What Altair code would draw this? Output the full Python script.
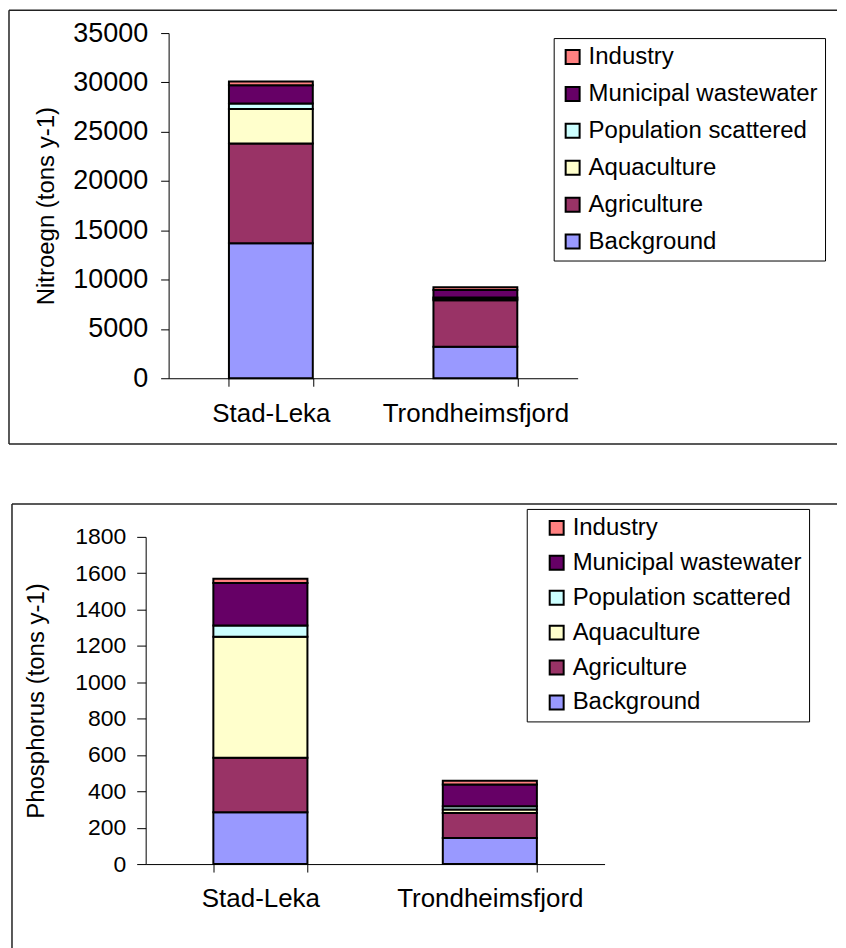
import altair as alt
import pandas as pd

sites = ["Stad-Leka", "Trondheimsfjord"]
legend_order = ["Industry", "Municipal wastewater", "Population scattered",
                "Aquaculture", "Agriculture", "Background"]
legend_colors = ["#FF8080", "#660066", "#CCFFFF", "#FFFFCC", "#993366", "#9999FF"]
stack_order = ["Background", "Agriculture", "Aquaculture",
               "Population scattered", "Municipal wastewater", "Industry"]

# Nitrogen (tons y-1)
n_background = [13700, 3200]
n_agriculture = [10100, 4700]
n_aquaculture = [3500, 150]
n_population = [550, 150]
n_municipal = [1850, 750]
n_industry = [400, 270]
n_ticks = [0, 5000, 10000, 15000, 20000, 25000, 30000, 35000]

# Phosphorus (tons y-1)
p_background = [285, 144]
p_agriculture = [300, 137]
p_aquaculture = [666, 19]
p_population = [61, 18]
p_municipal = [234, 120]
p_industry = [24, 20]
p_ticks = [0, 200, 400, 600, 800, 1000, 1200, 1400, 1600, 1800]

FONT = "Liberation Sans"
FRAME = "#222222"


def build_df(bg, ag, aq, po, mu, ind):
    series = {"Background": bg, "Agriculture": ag, "Aquaculture": aq,
              "Population scattered": po, "Municipal wastewater": mu, "Industry": ind}
    rows = []
    for k, src in enumerate(stack_order):
        for i, s in enumerate(sites):
            rows.append({"site": s, "source": src, "value": series[src][i], "ord": k})
    return pd.DataFrame(rows)


def frame_rule(enc):
    return alt.Chart(pd.DataFrame({"edge": [0]})).mark_rule(
        color=FRAME, strokeWidth=1.5).encode(**enc)


def panel(df, ytitle, ymax, yticks, W, H, xr, yr, lx, ly, rowpad, symoff,
          ylabpad, ylabsize, ytitlepad, ytick, edges):
    bars = alt.Chart(df).mark_bar(stroke="black", strokeWidth=2).encode(
        x=alt.X("site:N", sort=sites,
                scale=alt.Scale(range=xr, paddingInner=0.59, paddingOuter=0.295),
                axis=alt.Axis(title=None, labelAngle=0, offset=-(H - yr[0]),
                              tickBand="extent", tickSize=8, labelPadding=14,
                              labelLimit=500,
                              labelFont=FONT, labelFontSize=26, labelColor="black",
                              domainColor="black", tickColor="black")),
        y=alt.Y("value:Q", stack="zero",
                scale=alt.Scale(domain=[0, ymax], range=yr, nice=False, zero=True),
                axis=alt.Axis(title=ytitle, values=yticks, format="d", grid=False,
                              offset=-xr[0], tickSize=ytick, labelPadding=ylabpad,
                              labelFont=FONT, labelFontSize=ylabsize, labelColor="black",
                              titleFont=FONT, titleFontSize=24, titleFontWeight="normal",
                              titleColor="black", titlePadding=ytitlepad,
                              domainColor="black", tickColor="black")),
        color=alt.Color("source:N",
                        scale=alt.Scale(domain=legend_order, range=legend_colors),
                        legend=alt.Legend(title=None, orient="none", legendX=lx, legendY=ly,
                                          fillColor="white", strokeColor="black",
                                          padding=7, symbolType="square", symbolSize=196,
                                          symbolStrokeColor="black", symbolStrokeWidth=2,
                                          symbolOffset=symoff, labelOffset=4,
                                          labelFont=FONT, labelFontSize=24,
                                          labelColor="black", rowPadding=rowpad,
                                          labelLimit=400)),
        order=alt.Order("ord:Q"),
    )
    layers = [bars] + [frame_rule(e) for e in edges]
    return alt.layer(*layers).properties(width=W, height=H)


df_n = build_df(n_background, n_agriculture, n_aquaculture, n_population, n_municipal, n_industry)
df_p = build_df(p_background, p_agriculture, p_aquaculture, p_population, p_municipal, p_industry)

W = 830
H1 = 435
H2 = 447

top_edges = [
    dict(x=alt.value(0), x2=alt.value(W), y=alt.value(0)),
    dict(x=alt.value(0), y=alt.value(0), y2=alt.value(H1)),
    dict(x=alt.value(0), x2=alt.value(W), y=alt.value(H1)),
]
bottom_edges = [
    dict(x=alt.value(3), x2=alt.value(W), y=alt.value(0)),
    dict(x=alt.value(3), y=alt.value(0), y2=alt.value(H2)),
]

top = panel(df_n, "Nitroegn (tons y-1)", 35000, n_ticks, W, H1,
            [160, 570], [369, 23], 546, 28, 13, 0, 13, 27, 14, 8, top_edges)
bottom = panel(df_p, "Phosphorus (tons y-1)", 1800, p_ticks, W, H2,
               [137, 597], [361, 33], 519, 5, 11, 11, 11, 23, 26, 9, bottom_edges)

chart = alt.vconcat(top, bottom, spacing=58).resolve_scale(
    color="independent").resolve_legend(color="independent").properties(
    padding=0).configure_view(stroke=None).configure_axis(grid=False)

chart.save("out.html", embed_options={"renderer": "svg", "actions": False})
